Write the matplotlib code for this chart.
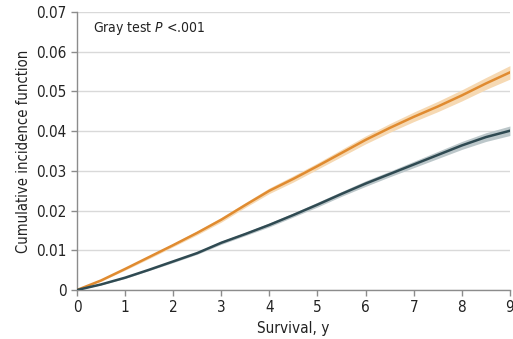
import matplotlib
matplotlib.use("Agg")
import matplotlib.pyplot as plt
import numpy as np

plt.rcParams['font.family'] = ['DejaVu Sans']
plt.rcParams['font.stretch'] = 'condensed'

# survival time, years
years = [0, 0.5, 1, 1.5, 2, 2.5, 3, 3.5, 4, 4.5, 5, 5.5, 6, 6.5, 7, 7.5, 8, 8.5, 9]
# orange group
cif_a = [0, 0.0024, 0.0053, 0.0083, 0.0113, 0.0144, 0.0177, 0.0214, 0.0250, 0.0280, 0.0312,
         0.0345, 0.0378, 0.0408, 0.0436, 0.0462, 0.0490, 0.0520, 0.0548]
half_a = [0, 0.0002, 0.0003, 0.0004, 0.0004, 0.0005, 0.0006, 0.0006, 0.0007, 0.0008, 0.0008,
          0.0009, 0.0010, 0.0011, 0.0012, 0.0013, 0.0014, 0.0015, 0.0017]
# dark group
cif_b = [0, 0.0014, 0.0031, 0.0051, 0.0072, 0.0093, 0.0119, 0.0141, 0.0164, 0.0189, 0.0215,
         0.0242, 0.0268, 0.0292, 0.0316, 0.0340, 0.0364, 0.0385, 0.0401]
half_b = [0, 0.0001, 0.0002, 0.0002, 0.0003, 0.0003, 0.0004, 0.0004, 0.0005, 0.0005, 0.0006,
          0.0006, 0.0007, 0.0007, 0.0008, 0.0009, 0.0010, 0.0011, 0.0012]

x_ticks = [0, 1, 2, 3, 4, 5, 6, 7, 8, 9]
y_ticks = [0, 0.01, 0.02, 0.03, 0.04, 0.05, 0.06, 0.07]
y_labels = ['0', '0.01', '0.02', '0.03', '0.04', '0.05', '0.06', '0.07']

fig = plt.figure(figsize=(5.13, 3.39), dpi=100)
ax = fig.add_axes([0.150, 0.1445, 0.844, 0.8201])

x = np.array(years)
a = np.array(cif_a); ha = np.array(half_a)
b = np.array(cif_b); hb = np.array(half_b)

ax.fill_between(x, a - ha, a + ha, color='#F6D9B3', lw=0, zorder=2)
ax.fill_between(x, b - hb, b + hb, color='#BCC7CA', lw=0, zorder=2)
ax.plot(x, a, color='#E08B30', lw=1.8, zorder=3)
ax.plot(x, b, color='#2F4A52', lw=1.8, zorder=3)

ax.set_xlim(0, 9)
ax.set_ylim(0, 0.07)
ax.set_xticks(x_ticks)
ax.set_yticks(y_ticks)
ax.set_yticklabels(y_labels)
ax.yaxis.grid(True, color='#D9D9D9', lw=1, zorder=0)
ax.set_axisbelow(True)
for s in ['top', 'right']:
    ax.spines[s].set_visible(False)
for s in ['left', 'bottom']:
    ax.spines[s].set_color('#8C8C8C')
    ax.spines[s].set_linewidth(1)
ax.tick_params(colors='#8C8C8C', labelcolor='#222222', labelsize=11, length=4, width=1)

ax.set_xlabel('Survival, y', fontsize=11, color='#222222', labelpad=4)
ax.set_ylabel('Cumulative incidence function', fontsize=10.6, color='#222222', labelpad=4)
ax.text(0.33, 0.0658, 'Gray test $\\it{P}$ <.001', fontsize=10, color='#222222', va='center')

fig.savefig('out.png', dpi=100)
